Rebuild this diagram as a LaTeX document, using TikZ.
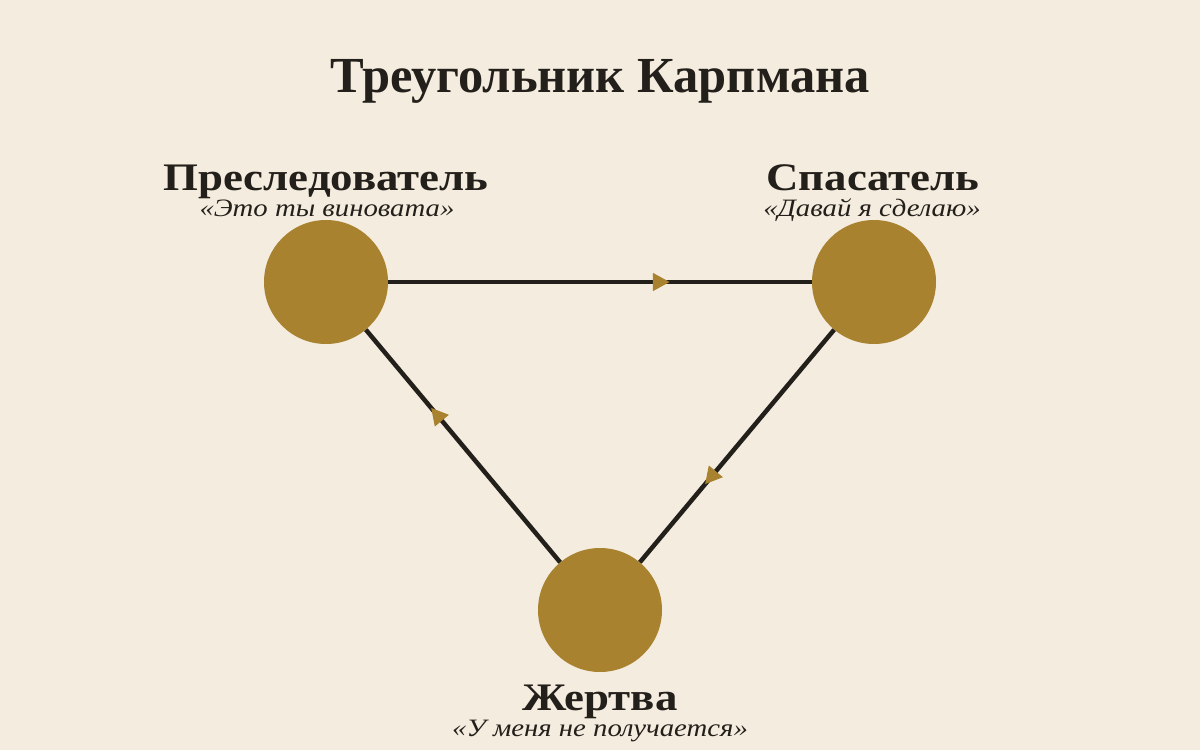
\documentclass[tikz,border=0pt]{standalone}
\usepackage{fontspec}
\setmainfont{Liberation Serif}
\newfontfamily\wideserif[FakeStretch=1.15]{Liberation Serif}
\usetikzlibrary{arrows.meta,decorations.markings}
\definecolor{bg}{HTML}{F4ECDF}
\definecolor{gold}{HTML}{A8822F}
\definecolor{ink}{HTML}{231F1A}
\tikzset{
  role/.style={circle,fill=gold,minimum size=124pt,inner sep=0pt},
  link/.style={draw=ink,line width=4.5pt,postaction={decorate},
    decoration={markings,mark=at position 0.665 with {\arrow[gold]{Triangle[length=17pt,width=17pt]}}}},
  ttl/.style={text=ink,font=\fontsize{50.5}{56}\selectfont\bfseries,anchor=base},
  nm/.style={text=ink,font=\wideserif\fontsize{39}{44}\selectfont\bfseries,anchor=base},
  qt/.style={text=ink,font=\wideserif\fontsize{25}{29}\selectfont\itshape,anchor=base}
}
\begin{document}
\begin{tikzpicture}[x=1pt,y=-1pt]
\fill[bg] (0,0) rectangle (1200,750);
\useasboundingbox (0,0) rectangle (1200,750);
\node[ttl] (title) at (600,92) {Треугольник Карпмана};
\node[role] (p) at (326,282) {};
\node[role] (s) at (874,282) {};
\node[role] (v) at (600,610) {};
\draw[link] (p) -- (s);
\draw[link] (s) -- (v);
\draw[link] (v) -- (p);
\node[nm] (pn) at (326,190) {Преследователь};
\node[qt] (pq) at (327,216) {«Это ты виновата»};
\node[nm] (sn) at (873,190) {Спасатель};
\node[qt] (sq) at (872,216) {«Давай я сделаю»};
\node[nm] (vn) at (600,710) {Жертва};
\node[qt] (vq) at (600,736) {«У меня не получается»};
\end{tikzpicture}
\end{document}
